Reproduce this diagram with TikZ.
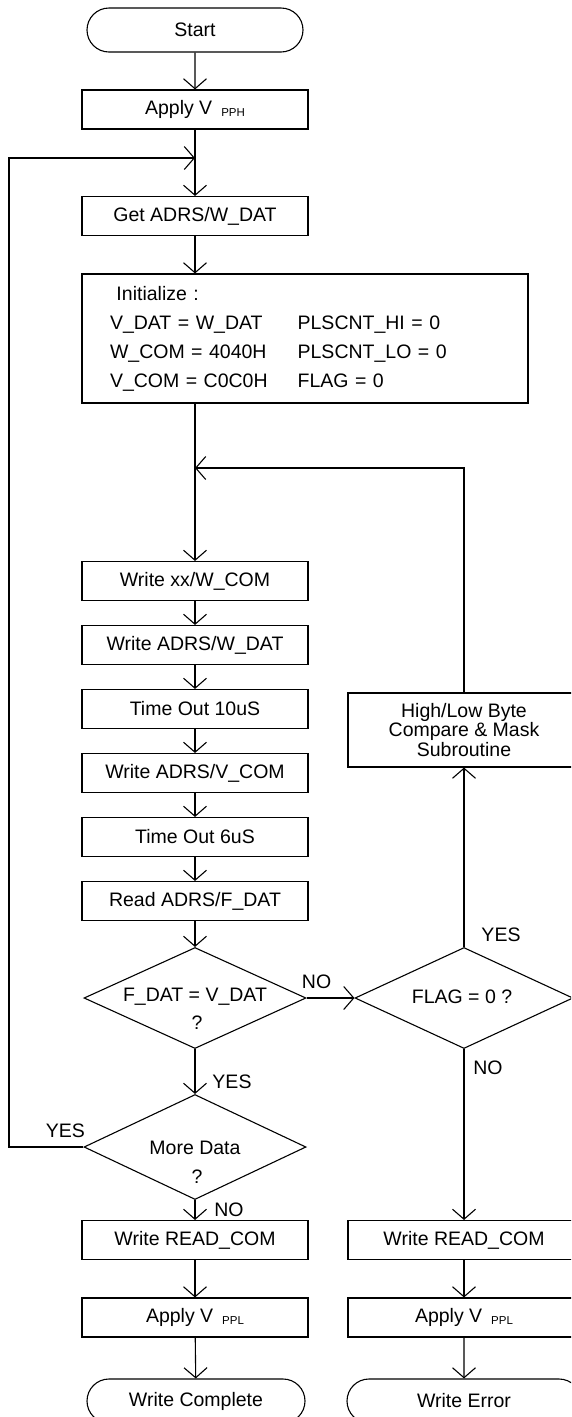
\documentclass[tikz,border=0pt]{standalone}
\usepackage{fontspec}
\setmainfont{Liberation Sans}
\usetikzlibrary{calc, shapes.geometric, shapes.misc, arrows.meta}

\newcommand{\vsub}[1]{V\hspace{9pt}\raisebox{-1.5pt}{\fontsize{11.5}{13}\selectfont #1}}

\begin{document}
\begin{tikzpicture}[x = 1pt, y = -1pt, line width = 1.1pt,
	font = \fontsize{19.5}{23}\selectfont,
	>= {Straight Barb[length = 10pt, width = 23pt]},
	box/.style = {draw, rectangle, minimum width = 226pt, minimum height = 39pt, inner sep = 0pt},
	wbox/.style = {box, minimum width = 232pt},
	term/.style = {draw, rounded rectangle, minimum width = 216pt, minimum height = 44pt, inner sep = 0pt},
	decision/.style = {draw, diamond, minimum width = 222pt, minimum height = 101pt, inner sep = 0pt}]
	\useasboundingbox (0,0) rectangle (571,1417);
	\clip (0,0) rectangle (571,1417);

	\node [term] (start) at (195,30) {Start};
	\node [box] (vpph) at (195,109.5) {Apply \vsub{PPH}};
	\coordinate (back) at (195,158);
	\coordinate (edge) at (9,158);
	\node [box] (getadr) at (195,216) {Get ADRS/W\_DAT};
	\node [box, minimum width = 446pt, minimum height = 129pt, text width = 390pt, inner xsep = 28pt, align = left] (init) at (305,338.5)
	{\fontsize{19.5}{29}\selectfont
		\begin{tabular}{@{}l@{\hspace{30pt}}l@{}}
			\ Initialize : & \\
			V\_DAT = W\_DAT & PLSCNT\_HI = 0 \\
			W\_COM = 4040H & PLSCNT\_LO = 0 \\
			V\_COM = C0C0H & FLAG = 0
		\end{tabular}};
	\coordinate (again) at (195,468);

	\foreach \n/\t [count = \i from 0] in {wcom/{Write xx/W\_COM}, wdat/{Write ADRS/W\_DAT}, t10/{Time Out 10uS}, vcom/{Write ADRS/V\_COM}, t6/{Time Out 6uS}, rdat/{Read ADRS/F\_DAT}}
	{
		\node [box] (\n) at (195,581+64*\i) {\t};
	}

	\node [decision] (fdat) at (195,998) {};
	\node (fdatq) at (195,997) {F\_DAT = V\_DAT};
	\node (fdatqm) at (197,1023) {?};
	\node [decision, minimum height = 105pt] (more) at (195,1147) {};
	\node (moreq) at (195,1148) {More Data};
	\node (moreqm) at (197,1177) {?};
	\node [box] (rdcom) at (195,1240) {Write READ\_COM};
	\node [box] (vppl) at (195,1317.5) {Apply \vsub{PPL}};
	\node [term, minimum width = 218pt] (done) at (196,1401) {Write Complete};

	\node [wbox, minimum height = 74pt, align = center, font = \fontsize{19.5}{19.5}\selectfont] (hilo) at (464,730) {High/Low Byte\\Compare \& Mask\\Subroutine};
	\node [decision, minimum width = 218pt] (flag) at (464,998) {};
	\node (flagq) at (462,997) {FLAG = 0 ?};
	\node [wbox] (rdcom2) at (464,1240) {Write READ\_COM};
	\node [wbox] (vppl2) at (464,1317.5) {Apply \vsub{PPL}};
	\node [term, minimum width = 234pt] (fail) at (464,1401) {Write Error};

	\node (fdatno) at ($(fdat.east)+(10,-16)$) {NO};
	\node (fdatyes) at ($(fdat.south)+(37,33)$) {YES};
	\node (moreyes) at ($(more.west)+(-18,-16)$) {YES};
	\node (moreno) at ($(more.south)+(34,10)$) {NO};
	\node (flagyes) at ($(flag.north)+(37,-12)$) {YES};
	\node (flagno) at ($(flag.south)+(24,19)$) {NO};

	\begin{scope}[->]
		\draw (start) -- (vpph);
		\draw (vpph) -- (getadr);
		\draw (getadr) -- (getadr |- init.north);
		\draw (init.south -| again) -- (wcom);
		\foreach \a/\b in {wcom/wdat, wdat/t10, t10/vcom, vcom/t6, t6/rdat, rdat/fdat, fdat/more, more/rdcom, rdcom/vppl, vppl/done, flag/hilo, flag/rdcom2, rdcom2/vppl2, vppl2/fail}
		{
			\draw (\a) -- (\b);
		}
		\draw (fdat.east) -- (flag.west);
		\draw (more.west) -| (edge) -- (back);
		\draw (hilo.north) |- (again);
	\end{scope}
\end{tikzpicture}
\end{document}
